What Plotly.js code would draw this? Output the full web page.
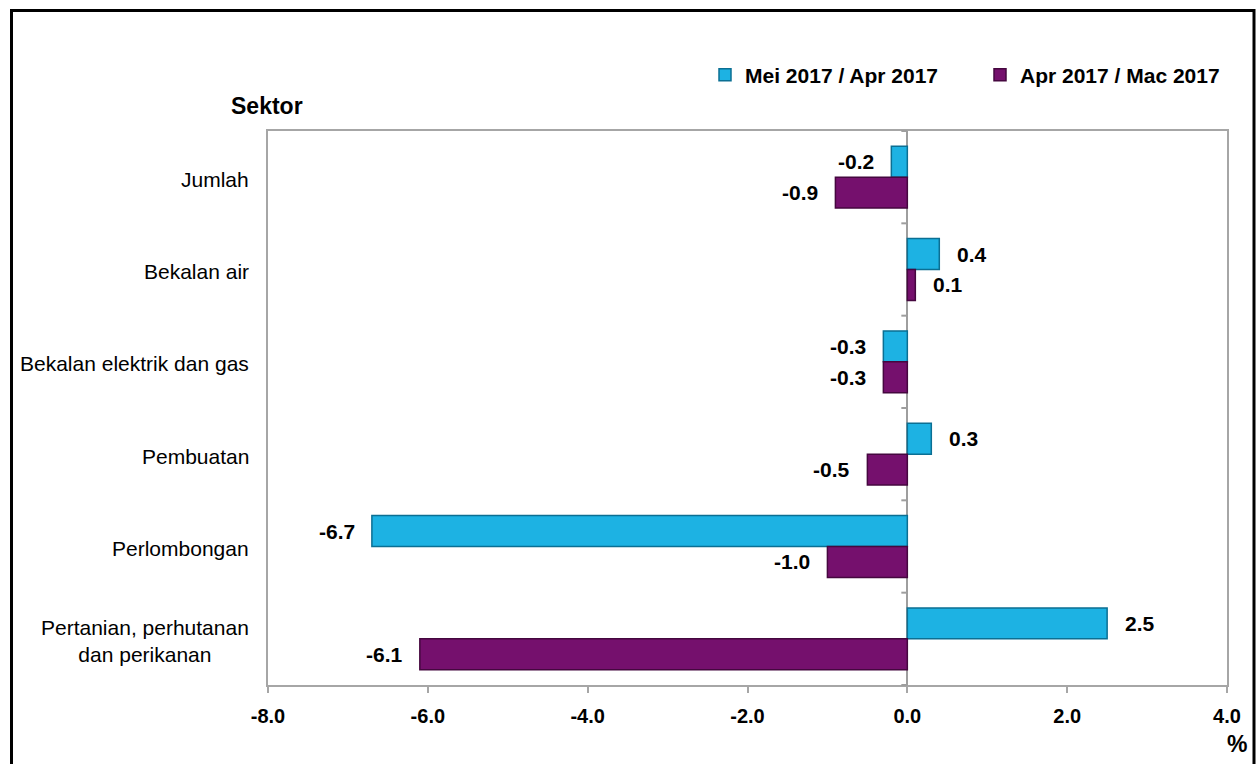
<!DOCTYPE html>
<html>
<head>
<meta charset="utf-8">
<script src="https://cdn.plot.ly/plotly-3.0.1.min.js"></script>
<style>
  html, body { margin: 0; padding: 0; background: #ffffff; }
  #chart { width: 1257px; height: 764px; }
</style>
</head>
<body>
<div id="chart"></div>
<script>
// ---- Data ----
const categories = ['Jumlah', 'Bekalan air', 'Bekalan elektrik dan gas', 'Pembuatan', 'Perlombongan', 'Pertanian, perhutanan<br>dan perikanan'];
const seriesNames = ['Mei 2017 / Apr 2017', 'Apr 2017 / Mac 2017'];
const meiApr = [-0.2, 0.4, -0.3, 0.3, -6.7, 2.5];
const aprMac = [-0.9, 0.1, -0.3, -0.5, -1.0, -6.1];
const xTickVals = [-8, -6, -4, -2, 0, 2, 4];
const xTickText = ['-8.0', '-6.0', '-4.0', '-2.0', '0.0', '2.0', '4.0'];
const yTitle = 'Sektor';
const xUnit = '%';

// ---- Layout geometry ----
const W = 1257, H = 764;
const M = { l: 268, r: 30, t: 131, b: 79, autoexpand: false };
const plotW = W - M.l - M.r, plotH = H - M.t - M.b;
const px2x = px => (px - M.l) / plotW;
const px2y = py => (H - M.b - py) / plotH;
const FONT = 'Arial, "Liberation Sans", sans-serif';
const bargap = 0.33;
const barPx = (plotH / categories.length) * (1 - bargap) / 2;

const colors = ['#1DB2E3', '#75106D'];
const lineColors = ['#0B6F93', '#45073F'];
const series = [meiApr, aprMac];

const traces = series.map((vals, k) => ({
  type: 'bar',
  orientation: 'h',
  name: seriesNames[k],
  y: categories,
  x: vals,
  marker: { color: colors[k], line: { color: lineColors[k], width: 1.5 } },
  hoverinfo: 'x+y'
}));

// value labels
const annotations = [];
series.forEach((vals, k) => {
  const yshift = (k === 0 ? 1 : -1) * barPx / 2;
  vals.forEach((v, i) => {
    annotations.push({
      x: v, y: categories[i], xref: 'x', yref: 'y',
      text: v.toFixed(1),
      showarrow: false,
      xanchor: v < 0 ? 'right' : 'left',
      xshift: v < 0 ? -15 : 16,
      yshift: yshift,
      font: { family: FONT, size: 21, color: '#000', weight: 'bold' }
    });
  });
});
// category labels
categories.forEach((c, i) => {
  annotations.push({
    x: 0, xref: 'paper', y: c, yref: 'y',
    text: c, showarrow: false, xanchor: 'right', xshift: -17, yshift: -2,
    align: 'center',
    font: { family: FONT, size: 21, color: '#000' }
  });
});
annotations.push({
  x: px2x(267), y: px2y(106), xref: 'paper', yref: 'paper',
  text: '<b>' + yTitle + '</b>', showarrow: false, xanchor: 'center', yanchor: 'middle',
  font: { family: FONT, size: 23, color: '#000' }
});
annotations.push({
  x: px2x(1237), y: px2y(744), xref: 'paper', yref: 'paper',
  text: '<b>' + xUnit + '</b>', showarrow: false, xanchor: 'center', yanchor: 'middle',
  font: { family: FONT, size: 23, color: '#000' }
});

// small tick marks along the zero line at category boundaries
const zeroPx = M.l + plotW * (0 - (-8)) / 12;
const shapes = [];
for (let i = 0; i <= categories.length; i++) {
  shapes.push({
    type: 'line', xref: 'paper', yref: 'paper',
    x0: px2x(zeroPx - 6), x1: px2x(zeroPx),
    y0: 1 - i / categories.length, y1: 1 - i / categories.length,
    line: { color: '#9E9E9E', width: 2 }
  });
}
// outer black frame
shapes.push({
  type: 'rect', xref: 'paper', yref: 'paper',
  x0: px2x(11.5), x1: px2x(1254), y0: px2y(775), y1: px2y(10.5),
  line: { color: '#000', width: 3 }, fillcolor: 'rgba(0,0,0,0)'
});

const layout = {
  width: W, height: H,
  margin: M,
  paper_bgcolor: '#fff', plot_bgcolor: '#fff',
  barmode: 'group', bargap: bargap, bargroupgap: 0,
  showlegend: true,
  legend: {
    orientation: 'h', x: px2x(705), xanchor: 'left', y: px2y(75), yanchor: 'middle',
    bgcolor: 'rgba(0,0,0,0)',
    font: { family: FONT, size: 21, color: '#000', weight: 'bold' },
    itemwidth: 30, entrywidth: 230, traceorder: 'normal'
  },
  xaxis: {
    range: [-8, 4], tickvals: xTickVals, ticktext: xTickText,
    showgrid: false, zeroline: true, zerolinecolor: '#9E9E9E', zerolinewidth: 2,
    showline: true, mirror: true, linecolor: '#A6A6A6', linewidth: 2,
    ticks: 'outside', ticklen: 6, tickwidth: 2, tickcolor: '#A6A6A6',
    ticklabelstandoff: 6,
    tickfont: { family: FONT, size: 20, color: '#000', weight: 'bold' },
    fixedrange: true
  },
  yaxis: {
    type: 'category', autorange: 'reversed',
    showgrid: false, showticklabels: false, ticks: '',
    showline: true, mirror: true, linecolor: '#A6A6A6', linewidth: 2,
    fixedrange: true
  },
  annotations: annotations,
  shapes: shapes,
  font: { family: FONT }
};

Plotly.newPlot('chart', traces, layout, { displayModeBar: false, staticPlot: true });
</script>
</body>
</html>
